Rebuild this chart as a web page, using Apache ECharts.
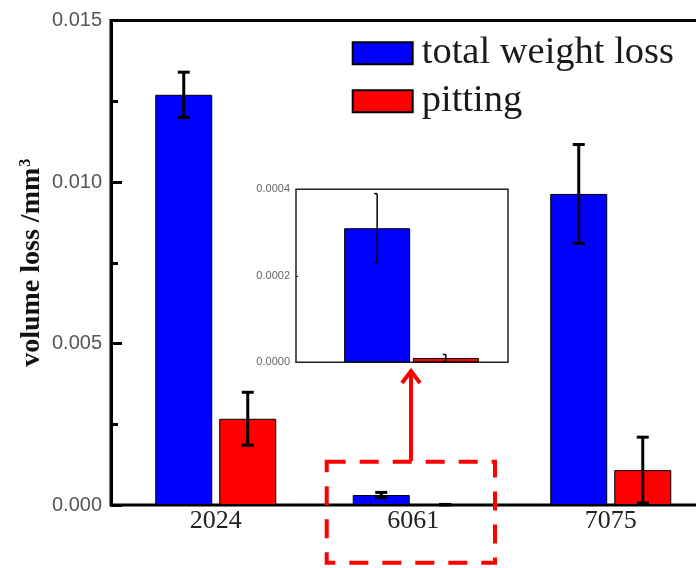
<!DOCTYPE html>
<html>
<head>
<meta charset="utf-8">
<script src="https://cdn.jsdelivr.net/npm/echarts@6/dist/echarts.min.js"></script>
<style>html,body{margin:0;padding:0;background:#fff;}#c{width:696px;height:568px;}</style>
</head>
<body>
<div id="c"></div>
<script>
// ---- data ----
const categories = ['2024', '6061', '7075'];
const totalLoss = [0.0127, 0.00031, 0.00963];
const totalErr = [0.0007, 0.00008, 0.00153];
const pitting = [0.00267, 0.00001, 0.00108];
const pittingErr = [0.00082, 0.000008, 0.00102];
const insetCategories = ['6061'];
const insetIndex = 1; // 6061 in categories
const mainYMin = 0, mainYMax = 0.015, mainYInterval = 0.005;
const insetYMin = 0, insetYMax = 0.0004, insetYInterval = 0.0002;

const SERIF = "'Liberation Serif','Times New Roman',serif";
const SANS = "'Liberation Sans',Arial,sans-serif";
const BLUE = '#0000ff', RED = '#ff0000';

function errItem(offset, capW, lw, halfCap) {
  return function (params, api) {
    const x = api.value(0), lo = api.value(1), hi = api.value(2);
    const pLo = api.coord([x, lo]);
    const pHi = api.coord([x, hi]);
    const cx = pLo[0] + offset;
    const x1 = halfCap ? cx - capW : cx - capW / 2;
    const x2 = halfCap ? cx : cx + capW / 2;
    const st = { stroke: '#000', lineWidth: lw, fill: null };
    return {
      type: 'group',
      children: [
        { type: 'line', shape: { x1: cx, y1: pLo[1], x2: cx, y2: pHi[1] }, style: st },
        { type: 'line', shape: { x1: x1, y1: pHi[1], x2: x2, y2: pHi[1] }, style: st },
        { type: 'line', shape: { x1: x1, y1: pLo[1], x2: x2, y2: pLo[1] }, style: st }
      ]
    };
  };
}

const mainBarW = 57, mainGapPx = 7;
const insetBarW = 66, insetGapPx = 2.7;
const mainOff = (mainBarW + mainGapPx) / 2;
const insetOff = (insetBarW + insetGapPx) / 2;

const chart = echarts.init(document.getElementById('c'), null, { renderer: 'canvas' });
const option = {
  animation: false,
  backgroundColor: '#fff',
  grid: [
    // 0: main frame
    { left: 111, top: 20.5, width: 640, height: 484.5, show: true, borderColor: '#000', borderWidth: 3, backgroundColor: 'transparent', outerBoundsMode: 'none' },
    // 1: main bars
    { left: 117, top: 20.5, width: 592.5, height: 484.5, outerBoundsMode: 'none' },
    // 2: inset frame
    { left: 296, top: 189.3, width: 212, height: 173, show: true, borderColor: '#222', borderWidth: 1.5, backgroundColor: '#fff', outerBoundsMode: 'none', z: 5 },
    // 3: inset bars
    { left: 315, top: 189.3, width: 193, height: 173, outerBoundsMode: 'none' }
  ],
  legend: {
    data: ['total weight loss', 'pitting'],
    orient: 'vertical',
    left: 351.7, top: 33.7, padding: 0,
    itemWidth: 60, itemHeight: 22, itemGap: 9,
    icon: 'rect',
    textStyle: { fontFamily: SERIF, fontSize: 38.5, color: '#1a1a1a', padding: [0, 0, 0, 4] }
  },
  xAxis: [
    { gridIndex: 0, type: 'value', show: false, min: 0, max: 1 },
    {
      gridIndex: 1, type: 'category', data: categories,
      axisLine: { show: false }, axisTick: { show: false },
      axisLabel: { fontFamily: SERIF, fontSize: 26, color: '#222', margin: 3 }
    },
    { gridIndex: 2, type: 'value', show: false, min: 0, max: 1 },
    { gridIndex: 3, type: 'category', data: insetCategories, show: false }
  ],
  yAxis: [
    {
      gridIndex: 0, type: 'value', min: mainYMin, max: mainYMax, interval: mainYInterval,
      name: '{a|volume loss /mm}{b|3}', nameLocation: 'middle', nameGap: 65, nameRotate: 90,
      nameMoveOverlap: false,
      nameTextStyle: {
        rich: {
          a: { fontFamily: SERIF, fontSize: 28, fontWeight: 'bold', color: '#111' },
          b: { fontFamily: SERIF, fontSize: 16, fontWeight: 'bold', color: '#111', verticalAlign: 'top', padding: [0, 0, 12, 1] }
        }
      },
      axisLine: { show: true, lineStyle: { color: '#000', width: 3 } },
      axisTick: { show: true, inside: true, length: 11, lineStyle: { color: '#000', width: 3 } },
      minorTick: { show: true, splitNumber: 2, length: 7, lineStyle: { color: '#000', width: 3 } },
      splitLine: { show: false },
      axisLabel: { fontFamily: SANS, fontSize: 20, color: '#555', margin: 9, formatter: v => v.toFixed(3) }
    },
    { gridIndex: 1, type: 'value', min: mainYMin, max: mainYMax, show: false },
    {
      gridIndex: 2, type: 'value', min: insetYMin, max: insetYMax, interval: insetYInterval,
      axisLine: { show: false },
      axisTick: { show: true, inside: true, length: 2, lineStyle: { color: '#222', width: 1 } },
      splitLine: { show: false },
      axisLabel: { fontFamily: SANS, fontSize: 11, color: '#666', margin: 6, formatter: v => v.toFixed(4) },
      z: 6
    },
    { gridIndex: 3, type: 'value', min: insetYMin, max: insetYMax, show: false }
  ],
  series: [
    {
      name: 'total weight loss', type: 'bar', xAxisIndex: 1, yAxisIndex: 1,
      data: totalLoss, barWidth: mainBarW, barGap: (mainGapPx / mainBarW * 100).toFixed(1) + '%',
      itemStyle: { color: BLUE, borderColor: '#000', borderWidth: 1 }, z: 2
    },
    {
      name: 'pitting', type: 'bar', xAxisIndex: 1, yAxisIndex: 1,
      data: pitting, barWidth: mainBarW,
      itemStyle: { color: RED, borderColor: '#000', borderWidth: 1 }, z: 2
    },
    {
      type: 'custom', xAxisIndex: 1, yAxisIndex: 1, z: 3,
      renderItem: errItem(-mainOff, 12, 3, false),
      encode: { x: 0, y: [1, 2] },
      data: categories.map((c, i) => [i, totalLoss[i] - totalErr[i], totalLoss[i] + totalErr[i]])
    },
    {
      type: 'custom', xAxisIndex: 1, yAxisIndex: 1, z: 3,
      renderItem: errItem(mainOff, 12, 3, false),
      encode: { x: 0, y: [1, 2] },
      data: categories.map((c, i) => [i, pitting[i] - pittingErr[i], pitting[i] + pittingErr[i]])
    },
    // inset
    {
      name: 'total weight loss', type: 'bar', xAxisIndex: 3, yAxisIndex: 3,
      data: [totalLoss[insetIndex]], barWidth: insetBarW, barGap: (insetGapPx / insetBarW * 100).toFixed(1) + '%',
      itemStyle: { color: BLUE, borderColor: '#000', borderWidth: 1 }, z: 10
    },
    {
      name: 'pitting', type: 'bar', xAxisIndex: 3, yAxisIndex: 3,
      data: [pitting[insetIndex]], barWidth: insetBarW,
      itemStyle: { color: RED, borderColor: '#000', borderWidth: 1 }, z: 10
    },
    {
      type: 'custom', xAxisIndex: 3, yAxisIndex: 3, z: 11,
      renderItem: errItem(-insetOff, 3, 1.5, true),
      encode: { x: 0, y: [1, 2] },
      data: [[0, totalLoss[insetIndex] - totalErr[insetIndex], totalLoss[insetIndex] + totalErr[insetIndex]]]
    },
    {
      type: 'custom', xAxisIndex: 3, yAxisIndex: 3, z: 11,
      renderItem: errItem(insetOff, 3, 1.5, true),
      encode: { x: 0, y: [1, 2] },
      data: [[0, pitting[insetIndex] - pittingErr[insetIndex], pitting[insetIndex] + pittingErr[insetIndex]]]
    }
  ],
  graphic: [
    {
      type: 'rect', z: 20,
      shape: { x: 326.7, y: 461.7, width: 168.3, height: 101 },
      style: { fill: null, stroke: RED, lineWidth: 4, lineDash: [19, 14] }
    },
    {
      type: 'line', z: 20,
      shape: { x1: 411, y1: 461, x2: 411, y2: 372 },
      style: { stroke: RED, lineWidth: 4 }
    },
    {
      type: 'polyline', z: 20,
      shape: { points: [[402, 383], [411, 371], [420, 383]] },
      style: { stroke: RED, lineWidth: 4, fill: null, lineJoin: 'miter' }
    }
  ]
};
chart.setOption(option);
</script>
</body>
</html>
